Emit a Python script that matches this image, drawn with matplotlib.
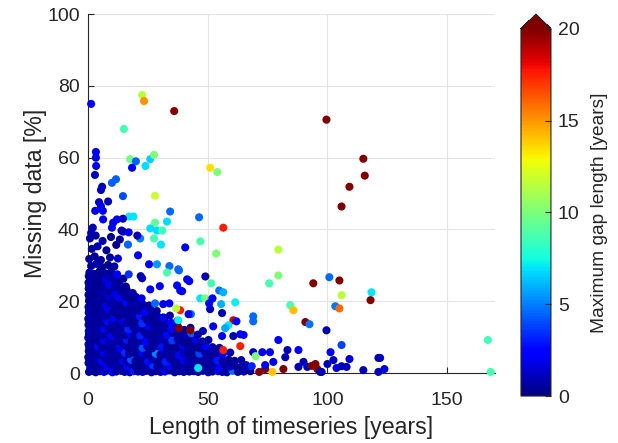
import numpy as np
import matplotlib
matplotlib.use('Agg')
import matplotlib.pyplot as plt

# dense cluster near the origin, one line per band of missing data
dense_len = [
    0.4, 1.9, 3.2, 5.0, 6.7, 8.3, 10.2, 11.8, 13.9, 15.3, 17.4, 19.0, 20.9, 22.8, 24.4, 26.5, 28.2, 30.3, 32.1, 34.0, 36.2, 38.1, 40.0, 42.3,
    44.1, 46.0, 47.9, 50.2, 52.0, 54.3, 56.1, 58.0, 60.4, 62.6, 65.1, 67.8,
    1.0, 2.6, 4.3, 6.0, 7.8, 9.5, 11.2, 13.0, 14.7, 16.5, 18.3, 20.1, 21.9, 23.6, 25.4, 27.2, 29.0, 30.8, 32.6, 34.5, 36.4, 38.3, 40.1, 41.9,
    43.8, 45.6, 47.5, 49.3, 51.2, 53.0, 55.0, 57.1, 59.2, 61.3, 63.5, 66.0, 68.4,
    0.6, 2.2, 3.9, 5.6, 7.3, 9.1, 10.9, 12.6, 14.4, 16.2, 18.0, 19.8, 21.5, 23.3, 25.1, 26.9, 28.7, 30.6, 32.4, 34.2, 36.1, 38.0, 39.9, 41.8, 43.7, 45.7, 47.7, 49.8, 51.9, 54.0, 56.3, 58.7, 61.2, 64.0,
    1.3, 3.0, 4.8, 6.5, 8.3, 10.0, 11.8, 13.6, 15.4, 17.2, 19.0, 20.8, 22.6, 24.5, 26.4, 28.3, 30.2, 32.1, 34.0, 36.0, 38.0, 40.1, 42.2, 44.3, 46.5, 48.8, 51.2, 53.6, 56.3, 59.4,
    0.5, 2.3, 4.1, 5.9, 7.7, 9.5, 11.3, 13.2, 15.1, 17.0, 18.9, 20.8, 22.8, 24.8, 26.8, 28.8, 30.9, 33.0, 35.1, 37.3, 39.5, 41.8, 44.1, 46.6, 49.2, 52.0, 54.9,
    1.1, 2.9, 4.7, 6.6, 8.5, 10.4, 12.3, 14.2, 16.2, 18.2, 20.2, 22.2, 24.3, 26.4, 28.5, 30.7, 32.9, 35.2, 37.5, 39.9, 42.4, 45.0, 47.8, 50.3,
    0.4, 2.2, 4.0, 5.9, 7.8, 9.7, 11.6, 13.6, 15.6, 17.6, 19.7, 21.8, 23.9, 26.1, 28.3, 30.6, 32.9, 35.3, 37.8, 40.4, 43.1, 45.9,
    1.2, 3.0, 4.9, 6.8, 8.7, 10.7, 12.7, 14.7, 16.8, 18.9, 21.0, 23.2, 25.4, 27.7, 30.0, 32.4, 34.9, 37.5, 40.2, 42.8,
    0.6, 2.4, 4.3, 6.2, 8.1, 10.1, 12.1, 14.1, 16.2, 18.3, 20.4, 22.6, 24.9, 27.2, 29.6, 32.1, 34.7, 37.4,
    1.0, 2.9, 4.8, 6.8, 8.8, 10.8, 12.9, 15.0, 17.2, 19.4, 21.7, 24.0, 26.4, 28.9, 31.5, 34.2,
    0.5, 2.4, 4.3, 6.3, 8.3, 10.4, 12.5, 14.6, 16.8, 19.0, 21.3, 23.7, 26.1, 28.7,
    1.3, 3.2, 5.2, 7.2, 9.3, 11.4, 13.6, 15.8, 18.1, 20.5, 22.9, 25.5,
    0.7, 2.6, 4.6, 6.6, 8.7, 10.8, 13.0, 15.3, 17.6, 20.0, 22.4,
    1.2, 3.1, 5.1, 7.2, 9.3, 11.5, 13.8, 16.2, 18.7,
    0.5, 2.5, 4.5, 6.6, 8.8, 11.0, 13.3, 15.8,
    1.1, 3.1, 5.3, 7.5, 9.8, 12.2, 14.8,
    0.6, 2.7, 4.9, 7.2, 9.6, 12.2,
    1.3, 3.5, 5.9, 8.4, 11.0,
    0.5, 2.8, 5.4, 9.2, 12.5,
    1.6, 4.0, 7.7, 11.8,
    0.8, 3.2, 6.1, 9.6, 13.3,
]
dense_miss = [
    0.3, 0.6, 0.2, 0.5, 0.3, 0.7, 0.2, 0.4, 0.6, 0.3, 0.2, 0.5, 0.4, 0.3, 0.6, 0.2, 0.5, 0.3, 0.4, 0.7, 0.2, 0.5, 0.3, 0.4,
    0.5, 0.3, 0.6, 0.2, 0.4, 0.5, 0.3, 0.2, 0.6, 0.3, 0.4, 0.5,
    1.8, 2.3, 1.5, 2.1, 1.7, 2.5, 1.9, 1.4, 2.2, 1.8, 2.4, 1.6, 2.0, 2.3, 1.5, 2.1, 1.8, 2.5, 1.6, 2.0, 1.7, 2.2, 1.5, 1.9,
    2.2, 1.6, 2.0, 2.4, 1.7, 2.1, 1.5, 2.3, 1.8, 2.0, 1.6, 2.2, 1.9,
    3.5, 3.1, 3.8, 3.3, 3.9, 3.2, 3.6, 4.0, 3.4, 3.1, 3.7, 3.3, 3.9, 3.5, 3.2, 3.8, 3.4, 3.6, 3.1, 4.0, 3.3, 3.7, 3.5, 3.2, 3.8, 3.4, 3.6, 3.1, 3.9, 3.5, 3.3, 3.7, 3.4, 3.6,
    5.3, 5.8, 5.0, 5.6, 5.2, 5.9, 5.4, 5.1, 5.7, 5.3, 5.8, 5.0, 5.5, 5.2, 5.9, 5.4, 5.1, 5.6, 5.3, 5.8, 5.0, 5.5, 5.7, 5.2, 5.4, 5.9, 5.1, 5.6, 5.3, 5.7,
    7.2, 6.8, 7.5, 7.0, 7.7, 6.9, 7.4, 7.1, 7.8, 6.8, 7.3, 7.6, 7.0, 7.4, 6.9, 7.7, 7.2, 6.8, 7.5, 7.1, 7.6, 7.0, 7.3, 6.9, 7.5, 7.2, 7.0,
    8.9, 9.4, 8.6, 9.1, 8.7, 9.5, 9.0, 8.5, 9.3, 8.8, 9.6, 9.0, 8.6, 9.2, 8.9, 9.5, 8.7, 9.1, 9.4, 8.6, 9.0, 9.3, 8.8, 9.2,
    10.8, 10.4, 11.2, 10.6, 11.0, 10.3, 10.9, 11.3, 10.5, 11.1, 10.7, 10.4, 11.2, 10.8, 10.5, 11.0, 10.6, 11.3, 10.9, 10.4, 11.1, 10.7,
    12.5, 12.1, 12.9, 12.3, 12.7, 12.0, 12.6, 13.0, 12.2, 12.8, 12.4, 12.1, 12.9, 12.5, 12.2, 12.7, 12.3, 12.9, 12.0, 12.6,
    14.2, 13.8, 14.6, 14.0, 14.4, 13.7, 14.3, 14.7, 13.9, 14.5, 14.1, 13.8, 14.6, 14.2, 13.9, 14.4, 14.0, 14.5,
    15.9, 15.4, 16.3, 15.7, 16.1, 15.3, 15.9, 16.4, 15.6, 16.2, 15.8, 15.4, 16.3, 15.9, 15.5, 16.0,
    17.6, 17.1, 17.9, 17.3, 17.8, 17.0, 17.5, 18.0, 17.2, 17.7, 17.4, 17.0, 17.8, 17.3,
    19.2, 18.8, 19.6, 19.0, 19.4, 18.7, 19.3, 19.7, 18.9, 19.5, 19.1, 18.8,
    20.9, 20.5, 21.3, 20.7, 21.1, 20.4, 21.0, 21.4, 20.6, 21.2, 20.8,
    22.6, 22.2, 23.0, 22.4, 22.9, 22.1, 22.7, 23.1, 22.3,
    24.4, 24.0, 24.8, 24.2, 24.6, 23.9, 24.5, 24.1,
    26.2, 25.8, 26.6, 26.0, 26.5, 25.7, 26.3,
    28.0, 27.6, 28.4, 27.8, 28.2, 27.5,
    29.8, 30.4, 29.5, 30.1, 29.7,
    31.8, 32.5, 31.5, 32.2, 31.9,
    34.6, 35.3, 34.2, 35.7,
    37.5, 38.3, 36.8, 37.9, 37.2,
]
dense_gap = [
    0.5, 0.9, 0.3, 0.6, 1.5, 0.4, 2.1, 0.6, 0.2, 0.8, 0.7, 3.0, 0.5, 0.9, 0.4, 0.6, 0.3, 0.8, 2.4, 0.6, 0.4, 0.5, 0.9, 0.3,
    0.6, 0.4, 0.4, 0.8, 0.3, 1.9, 0.7, 0.5, 4.6, 0.5, 0.8, 0.4,
    0.8, 0.4, 0.5, 0.6, 2.0, 0.5, 0.9, 0.7, 0.4, 2.6, 0.7, 0.3, 0.3, 0.5, 0.8, 3.5, 0.6, 0.4, 0.9, 2.2, 0.5, 0.4, 0.7, 0.6,
    0.6, 1.8, 0.9, 0.4, 0.5, 0.7, 2.5, 0.5, 0.8, 0.6, 0.5, 0.8, 3.2,
    0.6, 0.5, 0.8, 2.3, 0.4, 0.6, 0.7, 0.3, 1.9, 0.9, 4.2, 0.6, 0.3, 0.5, 2.7, 0.8, 0.5, 0.4, 3.1, 0.7, 0.5, 0.6, 2.0, 0.9, 0.5, 0.7, 0.4, 0.6, 0.8, 2.9, 0.6, 0.4, 0.5, 0.7,
    0.7, 0.4, 0.4, 2.2, 0.9, 0.5, 0.8, 0.6, 3.3, 0.8, 0.3, 0.4, 2.0, 0.7, 0.5, 5.0, 0.5, 0.9, 0.6, 0.6, 2.4, 0.8, 0.4, 0.3, 3.8, 0.7, 0.5, 0.5, 2.1, 0.9,
    0.6, 0.5, 2.6, 0.8, 0.4, 0.5, 0.6, 2.1, 0.9, 0.3, 0.7, 0.7, 4.0, 0.5, 0.4, 0.8, 2.8, 0.6, 0.3, 0.4, 1.9, 0.7, 0.5, 0.5, 2.3, 0.9, 0.6,
    0.6, 0.3, 0.4, 2.0, 0.9, 0.5, 0.6, 0.7, 3.0, 0.4, 0.5, 0.8, 2.5, 0.6, 0.4, 0.9, 0.5, 3.6, 0.7, 0.3, 0.4, 1.8, 0.8, 0.6,
    0.9, 0.5, 0.7, 0.7, 0.4, 2.3, 0.8, 0.5, 0.5, 1.9, 0.6, 3.1, 0.9, 0.4, 0.6, 0.7, 2.6, 0.5, 0.4, 0.8, 4.4, 0.6,
    0.5, 0.6, 0.8, 2.4, 0.4, 0.3, 0.7, 0.6, 3.2, 0.6, 0.9, 0.4, 1.8, 0.7, 0.5, 0.5, 2.1, 0.9, 0.6, 0.5,
    0.4, 0.6, 0.4, 0.5, 2.7, 0.8, 0.5, 1.9, 0.7, 0.3, 0.4, 3.4, 0.9, 0.6, 0.5, 0.8, 2.2, 0.5,
    0.7, 0.6, 0.5, 0.9, 0.4, 2.1, 0.3, 0.6, 0.5, 0.8, 2.9, 0.5, 0.4, 0.7, 1.8, 0.9,
    0.9, 0.5, 0.3, 0.7, 2.0, 0.4, 0.8, 0.5, 0.6, 0.4, 0.5, 2.4, 0.8, 0.6,
    0.6, 0.4, 0.4, 1.7, 0.8, 0.5, 0.3, 2.6, 0.7, 0.9, 0.5, 0.6,
    0.4, 0.5, 0.8, 0.4, 1.5, 0.7, 2.2, 0.6, 0.3, 0.5, 1.8,
    0.5, 0.3, 0.7, 0.9, 0.4, 1.9, 0.6, 0.4, 0.8,
    0.8, 0.4, 0.3, 0.6, 2.0, 0.7, 0.5, 0.4,
    0.6, 0.4, 0.4, 1.6, 0.8, 0.5, 0.3,
    0.9, 0.5, 0.3, 0.7, 0.4, 2.1,
    0.5, 0.8, 0.4, 0.3, 0.7,
    0.7, 0.4, 0.6, 0.6, 1.5,
    0.5, 0.9, 0.4, 0.3,
    0.6, 0.4, 0.8, 0.3, 0.5,
]

# more stations packed between the bands above (the core is solid in the source)
core_len = [
    0.9, 2.7, 4.2, 5.9, 7.5, 9.2, 11.0, 12.8, 14.6, 16.3, 18.2, 20.0, 21.8, 23.7, 25.5, 27.3, 29.2, 31.2, 33.0, 35.1, 37.0, 39.0, 41.1, 43.2, 45.0, 47.0, 49.1, 51.1, 53.1, 55.4, 57.5, 59.8,
    0.2, 1.8, 3.4, 5.1, 6.9, 8.6, 10.4, 12.1, 13.9, 15.7, 17.5, 19.3, 21.1, 22.9, 24.7, 26.6, 28.4, 30.3, 32.2, 34.0, 36.0, 37.9, 39.9, 41.9, 44.0, 46.1, 48.3, 50.5, 52.9, 55.4, 58.0, 60.8,
    0.1, 1.9, 3.6, 5.4, 7.2, 8.9, 10.7, 12.5, 14.3, 16.1, 17.9, 19.7, 21.6, 23.5, 25.4, 27.3, 29.2, 31.2, 33.2, 35.2, 37.2, 39.3, 41.4, 43.6, 45.8, 48.1, 50.5, 53.0, 55.6,
    0.3, 2.0, 3.8, 5.6, 7.4, 9.2, 11.0, 12.8, 14.7, 16.6, 18.5, 20.4, 22.3, 24.3, 26.3, 28.3, 30.4, 32.5, 34.6, 36.8, 39.0, 41.3, 43.6, 46.0, 48.5, 51.0,
    0.2, 1.9, 3.7, 5.6, 7.5, 9.4, 11.3, 13.2, 15.2, 17.2, 19.2, 21.3, 23.4, 25.5, 27.7, 29.9, 32.2, 34.5, 36.9, 39.3, 41.8, 44.4, 47.1,
    0.1, 1.9, 3.8, 5.7, 7.6, 9.6, 11.6, 13.6, 15.7, 17.8, 19.9, 22.1, 24.3, 26.6, 28.9, 31.3, 33.8, 36.3, 38.9, 41.6, 44.3,
    0.3, 2.1, 4.0, 5.9, 7.9, 9.9, 11.9, 14.0, 16.1, 18.3, 20.5, 22.8, 25.1, 27.5, 29.9, 32.4, 35.0, 37.7, 40.5,
    0.2, 2.1, 4.0, 6.0, 8.0, 10.1, 12.2, 14.4, 16.6, 18.8, 21.1, 23.4, 25.8, 28.3, 30.8, 33.4, 36.0,
    0.1, 2.0, 3.9, 5.9, 7.9, 10.0, 12.1, 14.3, 16.5, 18.8, 21.1, 23.5, 26.0, 28.5, 31.1,
    0.3, 2.2, 4.2, 6.2, 8.3, 10.4, 12.6, 14.8, 17.0, 19.3, 21.7, 24.1, 26.6,
    0.2, 2.1, 4.1, 6.1, 8.2, 10.3, 12.5, 14.7, 17.0, 19.3, 21.7, 24.1,
    0.4, 2.3, 4.3, 6.3, 8.4, 10.5, 12.7, 15.0, 17.3, 19.7,
    0.2, 2.1, 4.1, 6.1, 8.2, 10.4, 12.6, 14.9, 17.3,
    0.3, 2.2, 4.2, 6.3, 8.5, 10.7, 13.0,
    0.2, 2.1, 4.1, 6.2, 8.4, 10.6,
    0.3, 2.2, 4.2, 6.4,
]
core_miss = [
    1.1, 0.9, 1.3, 1.0, 1.2, 0.8, 1.1, 1.4, 0.9, 1.2, 1.0, 1.3, 0.8, 1.1, 1.2, 0.9, 1.4, 1.0, 1.1, 0.8, 1.3, 1.0, 1.2, 0.9, 1.1, 1.3, 0.8, 1.0, 1.2, 1.1, 0.9, 1.2,
    2.8, 3.0, 2.6, 2.9, 2.7, 3.1, 2.6, 2.9, 2.8, 3.0, 2.7, 2.9, 2.6, 3.0, 2.8, 2.7, 3.1, 2.9, 2.6, 2.8, 3.0, 2.7, 2.9, 2.6, 3.0, 2.8, 2.7, 2.9, 3.0, 2.6, 2.8, 2.9,
    4.4, 4.6, 4.2, 4.5, 4.3, 4.7, 4.4, 4.2, 4.6, 4.3, 4.5, 4.4, 4.7, 4.2, 4.5, 4.3, 4.6, 4.4, 4.2, 4.5, 4.7, 4.3, 4.4, 4.6, 4.2, 4.5, 4.3, 4.6, 4.4,
    6.1, 6.4, 6.0, 6.3, 5.9, 6.2, 6.4, 6.0, 6.3, 6.1, 5.9, 6.4, 6.2, 6.0, 6.3, 6.1, 6.4, 5.9, 6.2, 6.0, 6.3, 6.1, 6.4, 6.0, 6.2, 6.3,
    8.0, 7.8, 8.2, 7.9, 8.1, 7.7, 8.0, 8.3, 7.8, 8.1, 7.9, 8.2, 7.8, 8.0, 8.3, 7.9, 8.1, 7.7, 8.0, 8.2, 7.8, 8.1, 7.9,
    9.8, 10.1, 9.7, 10.0, 9.9, 10.2, 9.7, 10.0, 9.8, 10.1, 9.9, 9.7, 10.2, 9.8, 10.0, 9.9, 10.1, 9.7, 10.0, 9.8, 10.1,
    11.7, 11.5, 11.9, 11.6, 11.8, 11.4, 11.7, 12.0, 11.5, 11.8, 11.6, 11.9, 11.5, 11.7, 11.8, 11.4, 11.6, 11.9, 11.7,
    13.4, 13.2, 13.6, 13.3, 13.5, 13.1, 13.4, 13.7, 13.2, 13.5, 13.3, 13.6, 13.2, 13.4, 13.5, 13.1, 13.4,
    15.1, 14.9, 15.3, 15.0, 15.2, 14.8, 15.1, 15.4, 14.9, 15.2, 15.0, 15.3, 14.9, 15.1, 15.2,
    16.8, 16.6, 17.0, 16.7, 16.9, 16.5, 16.8, 17.1, 16.6, 16.9, 16.7, 17.0, 16.6,
    18.4, 18.2, 18.6, 18.3, 18.5, 18.1, 18.4, 18.7, 18.2, 18.5, 18.3, 18.6,
    20.1, 19.9, 20.3, 20.0, 20.2, 19.8, 20.1, 20.4, 19.9, 20.2,
    21.8, 21.6, 22.0, 21.7, 21.9, 21.5, 21.8, 22.1, 21.6,
    23.5, 23.3, 23.7, 23.4, 23.6, 23.2, 23.5,
    25.2, 25.0, 25.4, 25.1, 25.3, 24.9,
    27.0, 26.8, 27.2, 26.9,
]
core_gap = [
    0.3, 0.6, 0.4, 0.9, 0.5, 0.2, 0.7, 1.6, 0.4, 0.8, 0.3, 0.5, 1.2, 0.6, 0.4, 0.9, 0.3, 0.7, 2.4, 0.5, 0.4, 0.8, 0.3, 0.6, 1.0, 0.4, 0.7, 0.5, 0.3, 0.8, 0.6, 0.4,
    0.5, 0.3, 0.8, 0.4, 0.6, 1.4, 0.3, 0.7, 0.5, 0.9, 0.4, 0.6, 2.0, 0.3, 0.7, 0.5, 0.4, 1.1, 0.6, 0.3, 0.8, 0.5, 0.4, 0.7, 0.3, 1.3, 0.6, 0.4, 0.8, 0.5, 0.7, 0.4,
    0.4, 0.7, 0.3, 0.5, 1.0, 0.4, 0.6, 0.3, 0.8, 0.5, 1.5, 0.4, 0.6, 0.3, 0.9, 0.5, 0.4, 0.7, 0.3, 1.2, 0.5, 0.4, 0.8, 0.6, 0.3, 0.5, 0.9, 0.4, 0.6,
    0.6, 0.3, 0.5, 0.9, 0.4, 0.7, 0.3, 1.3, 0.5, 0.4, 0.8, 0.3, 0.6, 0.5, 1.1, 0.4, 0.7, 0.3, 0.5, 0.9, 0.4, 0.6, 0.3, 0.8, 0.5, 0.4,
    0.4, 0.7, 0.3, 0.5, 1.2, 0.4, 0.6, 0.3, 0.9, 0.5, 0.4, 0.7, 1.6, 0.3, 0.5, 0.8, 0.4, 0.6, 0.3, 1.0, 0.5, 0.4, 0.7,
    0.5, 0.3, 0.8, 0.4, 0.6, 0.3, 1.1, 0.5, 0.4, 0.7, 0.3, 0.9, 0.5, 0.4, 0.6, 1.4, 0.3, 0.5, 0.7, 0.4, 0.6,
    0.4, 0.6, 0.3, 0.8, 0.5, 0.3, 0.7, 0.4, 1.2, 0.5, 0.3, 0.6, 0.4, 0.9, 0.5, 0.3, 0.7, 0.4, 0.6,
    0.5, 0.3, 0.7, 0.4, 0.6, 1.0, 0.3, 0.5, 0.4, 0.8, 0.3, 0.6, 0.4, 0.5, 1.3, 0.4, 0.6,
    0.4, 0.6, 0.3, 0.5, 0.8, 0.4, 0.6, 0.3, 0.7, 0.5, 0.3, 0.9, 0.4, 0.6, 0.5,
    0.5, 0.3, 0.6, 0.4, 0.9, 0.3, 0.5, 0.7, 0.4, 0.6, 0.3, 0.8, 0.5,
    0.4, 0.6, 0.3, 0.5, 0.7, 0.4, 1.0, 0.3, 0.6, 0.4, 0.5, 0.8,
    0.5, 0.3, 0.7, 0.4, 0.6, 0.3, 0.8, 0.5, 0.4, 0.6,
    0.4, 0.6, 0.3, 0.5, 0.8, 0.4, 0.6, 0.3, 0.5,
    0.5, 0.3, 0.6, 0.4, 0.7, 0.3, 0.5,
    0.4, 0.6, 0.3, 0.5, 0.7, 0.4,
    0.5, 0.3, 0.6, 0.4,
]

# scattered stations outside the dense cluster
sparse_len = [
    1.3, 22.6, 23.4, 36.0, 15.0, 3.3, 3.3, 3.4, 2.9, 17.6, 20.0, 18.4, 24.0, 26.0, 27.6, 51.0, 54.0,
    11.7, 10.0, 5.9, 5.4, 14.6, 28.0, 8.4, 4.6, 5.4, 3.0, 6.2, 34.3, 46.4, 17.2, 19.0, 14.6, 12.1,
    33.0, 28.0, 10.5, 2.0, 10.0, 14.7, 17.0, 26.0, 28.8, 31.0, 27.6, 21.8, 20.6, 30.5, 16.7, 46.9,
    40.6, 20.9, 53.5, 56.5, 25.5, 28.8, 34.0, 33.0, 38.0, 42.3, 49.4, 49.0, 51.5, 37.2, 38.5, 22.6,
    26.0, 54.8, 56.5, 46.9, 48.9, 51.5, 52.0, 55.6, 61.5, 38.5, 36.8, 43.0, 51.0, 28.0, 34.0, 37.7,
    38.0, 42.7, 46.0, 79.5, 79.5, 75.7, 94.1, 100.8, 56.0, 84.5, 85.8, 69.0, 69.0, 90.8, 92.5, 60.7,
    62.0, 58.6, 57.3, 99.6, 56.5, 63.6, 65.0, 79.5, 83.3, 87.9, 101.3, 81.6, 77.0, 71.5, 74.0, 95.0,
    95.8, 115.0, 115.6, 109.2, 105.9, 99.6, 105.0, 105.9, 118.4, 118.0, 103.3, 105.0, 105.9, 167.0, 168.2,
    121.3, 122.0, 123.8, 121.3, 115.0, 109.2, 102.5, 100.0, 103.8, 105.9, 108.0, 97.6, 82.4, 90.0, 87.9,
    91.6, 97.0, 74.0, 76.0, 69.0, 77.4, 70.0, 72.8, 63.6, 60.7, 56.0, 48.0, 52.3, 50.6, 42.0, 31.4,
    41.4, 39.3, 30.0, 17.0, 22.0, 1.3, 6.3, 14.0, 37.7, 93.5,
]
sparse_miss = [
    75.0, 77.5, 75.8, 73.0, 68.0, 61.6, 60.0, 57.7, 55.2, 59.6, 59.0, 57.2, 57.7, 59.6, 60.8, 57.2, 56.0,
    54.0, 53.0, 51.9, 51.0, 49.3, 49.4, 47.8, 47.6, 46.5, 45.2, 45.2, 45.0, 43.4, 43.6, 43.6, 43.0, 42.8,
    42.2, 41.9, 41.9, 40.5, 40.5, 39.4, 39.2, 40.3, 39.7, 39.7, 37.5, 37.5, 38.3, 35.8, 35.8, 36.7,
    35.0, 32.8, 33.3, 40.5, 30.3, 30.3, 29.8, 28.0, 28.6, 25.6, 26.9, 26.9, 25.0, 24.4, 23.0, 26.4,
    23.3, 23.0, 22.5, 20.8, 20.8, 20.5, 20.8, 19.2, 19.7, 17.5, 18.0, 16.4, 17.8, 19.4, 19.4, 14.7,
    12.5, 11.9, 1.4, 34.4, 27.2, 25.0, 25.0, 26.7, 16.7, 18.9, 17.5, 15.8, 14.4, 14.2, 13.6, 14.7,
    14.4, 13.3, 12.5, 11.9, 6.4, 7.5, 10.6, 9.2, 6.4, 6.4, 5.8, 1.1, 0.3, 0.3, 1.1, 2.5,
    1.1, 59.7, 55.0, 51.9, 46.4, 70.6, 25.8, 21.7, 22.5, 20.3, 18.6, 18.0, 7.8, 9.2, 0.3,
    4.2, 4.2, 1.1, 0.3, 0.8, 3.9, 3.6, 2.5, 1.4, 1.9, 1.7, 0.3, 4.4, 3.1, 1.7,
    1.7, 0.3, 2.2, 5.8, 5.8, 3.1, 4.7, 5.8, 10.8, 10.3, 10.3, 11.7, 13.0, 19.4, 16.4, 19.2,
    26.1, 22.8, 24.2, 27.5, 27.0, 39.0, 42.8, 39.7, 28.9, 2.0,
]
sparse_gap = [
    2.2, 11.5, 15.0, 20.0, 8.6, 2.0, 2.0, 2.0, 1.2, 9.7, 4.5, 2.3, 6.8, 6.6, 10.0, 13.5, 10.0,
    4.3, 4.3, 1.0, 1.2, 4.0, 11.8, 1.0, 1.2, 2.0, 2.0, 2.0, 4.6, 4.6, 7.0, 7.0, 1.0, 2.2,
    6.8, 9.3, 2.0, 1.0, 2.2, 2.2, 2.4, 6.8, 6.8, 8.5, 8.6, 5.0, 1.0, 7.0, 4.5, 8.8,
    2.0, 2.2, 10.0, 17.5, 2.3, 5.5, 4.6, 8.8, 4.6, 2.0, 13.0, 1.0, 8.7, 2.2, 2.2, 1.0,
    2.2, 4.8, 6.0, 7.0, 10.0, 7.0, 2.2, 6.0, 7.2, 17.5, 11.5, 4.6, 1.0, 4.6, 2.2, 7.2,
    20.0, 20.0, 7.0, 11.5, 10.0, 8.6, 20.0, 4.6, 1.0, 8.8, 14.2, 4.6, 4.6, 20.0, 4.8, 18.5,
    2.2, 7.0, 5.8, 1.0, 17.5, 17.5, 2.2, 2.2, 1.0, 2.2, 2.2, 20.0, 14.0, 20.0, 20.0, 20.0,
    20.0, 20.0, 20.0, 20.0, 20.0, 20.0, 20.0, 11.5, 7.0, 20.0, 4.8, 16.0, 3.8, 8.6, 8.6,
    1.0, 1.0, 1.8, 1.0, 1.0, 1.5, 1.0, 1.0, 1.8, 1.0, 1.0, 1.0, 1.0, 1.0, 1.0,
    1.0, 1.0, 2.0, 2.0, 1.0, 2.0, 10.0, 2.0, 2.0, 1.0, 2.0, 1.0, 2.0, 2.0, 2.0, 2.0,
    2.0, 2.0, 2.0, 3.5, 1.0, 1.0, 2.0, 1.0, 4.6, 20.0,
]

x = np.concatenate([core_len, dense_len, sparse_len])
y = np.concatenate([core_miss, dense_miss, sparse_miss])
c = np.concatenate([core_gap, dense_gap, sparse_gap])

txt = '#262626'
plt.rcParams['font.family'] = ['Liberation Sans', 'DejaVu Sans']
plt.rcParams['text.color'] = txt
plt.rcParams['axes.labelcolor'] = txt
plt.rcParams['xtick.color'] = txt
plt.rcParams['ytick.color'] = txt

fig = plt.figure(figsize=(6.18, 4.43), dpi=100)
ax = fig.add_axes([0.1424, 0.158, 0.6586, 0.810])
sc = ax.scatter(x, y, c=c, cmap='jet', vmin=0, vmax=20, s=34, linewidths=0, clip_on=False, zorder=3)

ax.set_xlim(0, 170)
ax.set_ylim(0, 100)
ax.set_xticks([0, 50, 100, 150])
ax.set_yticks([0, 20, 40, 60, 80, 100])
ax.grid(True, color='#e3e3e3', linewidth=0.8)
ax.set_axisbelow(True)
for side in ['top', 'right']:
    ax.spines[side].set_visible(False)
for side in ['left', 'bottom']:
    ax.spines[side].set_color(txt)
    ax.spines[side].set_linewidth(0.8)
ax.tick_params(direction='in', length=4, labelsize=14, width=0.8)
ax.tick_params(axis='x', pad=14)
ax.tick_params(axis='y', pad=6)
ax.set_xlabel('Length of timeseries [years]', fontsize=16.7, labelpad=5)
ax.set_ylabel('Missing data [%]', fontsize=16.7, labelpad=0)

cax = fig.add_axes([0.843, 0.106, 0.0485, 0.862])
cb = fig.colorbar(sc, cax=cax, extend='max', extendfrac=0.04)
cb.set_ticks([0, 5, 10, 15, 20])
cb.outline.set_edgecolor(txt)
cb.outline.set_linewidth(0.8)
cax.tick_params(direction='in', length=4, labelsize=14, width=0.8, color=txt, pad=5)
cb.set_label('Maximum gap length [years]', fontsize=13.8, labelpad=8)

fig.savefig('out.png', dpi=100)
